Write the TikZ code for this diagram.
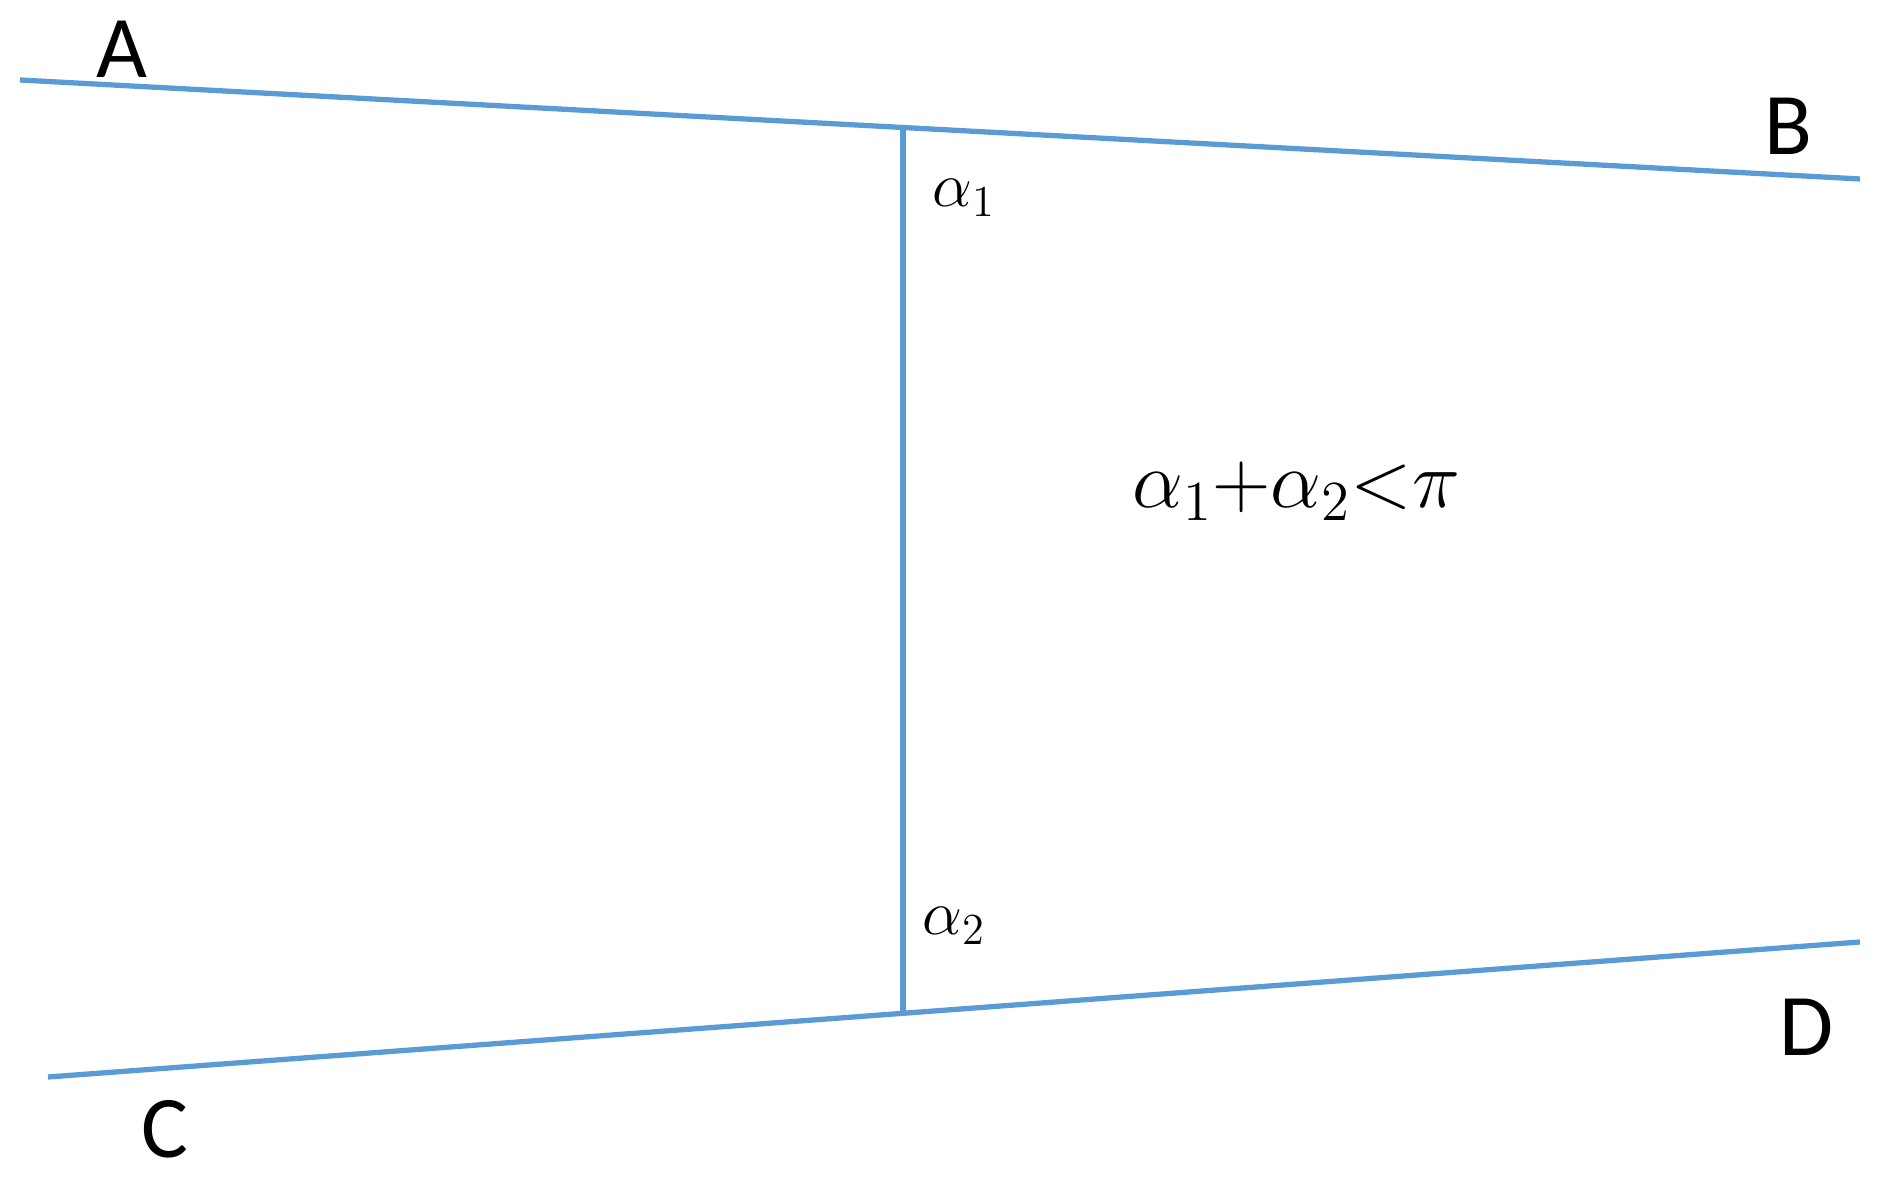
\RequirePackage{fix-cm}
\documentclass[tikz,border=0pt]{standalone}
\usepackage{amsmath}
\usepackage{fontspec}
\setmainfont{Carlito}
\usepackage{tikz}
\usetikzlibrary{calc}
\definecolor{lineblue}{RGB}{91,155,213}
\newcommand{\ptname}[3]{\node(#1)[ptlabel] at (#2){#3}}
\newcommand{\anglename}[3]{\node(#1)[anglabel] at (#2){\ensuremath{#3}}}

\begin{document}
\begin{tikzpicture}[
        x=0.01cm, y=-0.01cm,
        line/.style={draw=lineblue,line width=1.5pt},
        ptlabel/.style={inner sep=0pt,anchor=base,font=\fontsize{25}{30}\selectfont},
        anglabel/.style={inner sep=0pt,anchor=base west,font=\fontsize{18}{22}\selectfont}
      ]
      \useasboundingbox (0,0) rectangle (1891,1180);
      % the two lines and the transversal
      \coordinate (aend) at (20,80);
      \coordinate (bend) at (1860,179);
      \coordinate (cend) at (48,1077);
      \coordinate (dend) at (1860,942);
      \coordinate (topfoot) at (903,127.5);
      \coordinate (botfoot) at (903,1013);
      \draw[line] (aend) -- (bend);
      \draw[line] (cend) -- (dend);
      \draw[line] (topfoot) -- (botfoot);
      % letters
      \ptname{A}{122,78}{A};
      \ptname{B}{1788,155}{B};
      \ptname{C}{165,1157}{C};
      \ptname{D}{1807,1055}{D};
      % angles
      \anglename{alpha1}{932,207}{\alpha_1};
      \anglename{alpha2}{922,935}{\alpha_2};
      \node(sum)[inner sep=0pt,anchor=base west,font=\fontsize{23}{28}\selectfont]
        at (1132,508){$\alpha_1{+}\alpha_2{<}\pi$};
\end{tikzpicture}
\end{document}
